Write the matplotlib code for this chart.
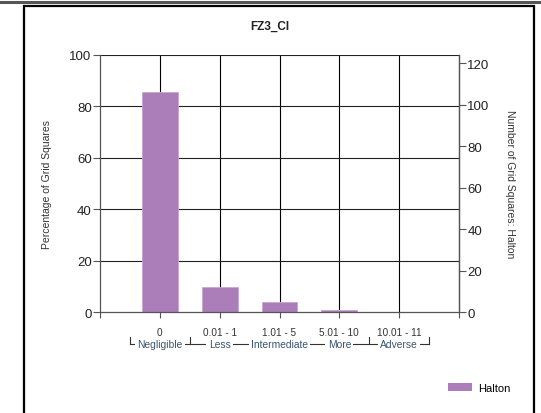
import numpy as np
import matplotlib
matplotlib.use('Agg')
import matplotlib.pyplot as plt
from matplotlib.patches import Rectangle, Patch
from matplotlib.lines import Line2D
import matplotlib.transforms as mtrans

plt.rcParams['font.family'] = ['Liberation Sans', 'DejaVu Sans']

# data
categories = ['0', '0.01 - 1', '1.01 - 5', '5.01 - 10', '10.01 - 11']
groups = ['Negligible', 'Less', 'Intermediate', 'More', 'Adverse']
counts = [106, 12, 5, 1, 0]
total = 124
percent = [c / total * 100 for c in counts]
series_name = 'Halton'
bar_color = '#AB7EBA'

W, H = 541, 414
fig = plt.figure(figsize=(W / 100, H / 100), dpi=100)

# outer frame + top rule
fig.add_artist(Line2D([0, 1], [1 - 2.5 / H, 1 - 2.5 / H], color='#555555', lw=2.2,
                      transform=fig.transFigure))
fig.add_artist(Rectangle((24 / W, -0.05), (534 - 24) / W, 1.05 - 7 / H, fill=False,
                         edgecolor='black', lw=1.6, transform=fig.transFigure))

left, right, top, bottom = 100, 459, 56, 313
ax = fig.add_axes([left / W, 1 - bottom / H, (right - left) / W, (bottom - top) / H])
x = np.arange(1, len(categories) + 1)

ax.set_xlim(0, 6)
ax.set_ylim(0, 100)
for v in x:
    ax.axvline(v, color='black', lw=0.8, zorder=1)
for v in [20, 40, 60, 80, 100]:
    ax.axhline(v, color='#222222', lw=0.8, zorder=1)
ax.bar(x, percent, width=0.6, color=bar_color, edgecolor='#C7A6D2', linewidth=0.6, zorder=2)

ax.set_yticks([0, 20, 40, 60, 80, 100])
ax.set_xticks(range(0, 7))
ax.set_xticklabels([''] + categories + [''], fontsize=7.2, color='#333333')
ax.tick_params(axis='y', labelsize=9.5, length=5, width=0.8, color='#555555', pad=1,
               labelcolor='#222222')
ax.tick_params(axis='x', length=4, width=0.8, color='#555555', pad=6.5)
for s in ['left', 'right', 'bottom']:
    ax.spines[s].set_color('#555555')
    ax.spines[s].set_linewidth(0.9)
ax.spines['top'].set_visible(False)
ax.set_ylabel('Percentage of Grid Squares', fontsize=7.5, color='#333333')
ax.yaxis.set_label_coords((52 - left) / (right - left), 0.5)

ax2 = ax.twinx()
ax2.set_ylim(0, total)
ax2.set_yticks([0, 20, 40, 60, 80, 100, 120])
ax2.tick_params(axis='y', labelsize=9.5, length=5, width=0.8, color='#555555', pad=1,
                labelcolor='#222222')
for s in ['left', 'top', 'bottom']:
    ax2.spines[s].set_visible(False)
ax2.spines['right'].set_color('#555555')
ax2.spines['right'].set_linewidth(0.9)
ax2.set_ylabel('Number of Grid Squares: Halton', fontsize=7.5, color='#333333',
               rotation=270, va='center')
ax2.yaxis.set_label_coords((510 - left) / (right - left), 0.5)

# group brackets below the category labels
trans = mtrans.blended_transform_factory(ax.transData, ax.transAxes)
ph = bottom - top
y_line = (bottom - 345) / ph
y_tick = (bottom - 338) / ph
ax.plot([x[0] - 0.5, x[-1] + 0.5], [y_line, y_line], color='#333333', lw=0.8,
        transform=trans, clip_on=False)
for b in np.arange(x[0] - 0.5, x[-1] + 1, 1.0):
    ax.plot([b, b], [y_line, y_tick], color='#333333', lw=0.8,
            transform=trans, clip_on=False)
for xi, g in zip(x, groups):
    ax.text(xi, y_line, g, transform=trans, ha='center', va='center', fontsize=7.4,
            color='#3a5570', bbox=dict(facecolor='white', edgecolor='none', pad=1.6))

fig.text(0.499, 1 - 27 / H, 'FZ3_CI', ha='center', va='center', fontsize=8.5,
         fontweight='bold', color='#222222')

fig.legend(handles=[Patch(facecolor=bar_color, edgecolor='none', label=series_name)],
           loc='center left', bbox_to_anchor=(438 / W, 1 - 389 / H), frameon=False,
           fontsize=8, handlelength=2.2, handleheight=0.7, handletextpad=0.5)

fig.savefig('out.png', dpi=100)
